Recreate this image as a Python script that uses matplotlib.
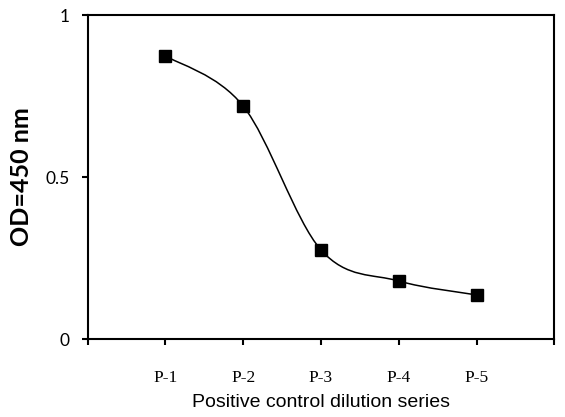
import matplotlib
matplotlib.use("Agg")
import matplotlib.pyplot as plt
from matplotlib.path import Path
from matplotlib.patches import PathPatch
import numpy as np

# ---- 数据 ----
labels = ["P-1", "P-2", "P-3", "P-4", "P-5"]
od450 = [0.874, 0.719, 0.275, 0.179, 0.136]
y_ticks = [0, 0.5, 1]
y_ticklabels = ["0", "0.5", "1"]


def smooth_path(xs, ys):
    """Excel 风格平滑线: Catmull-Rom → 三次 Bezier。"""
    pts = np.column_stack([xs, ys]).astype(float)
    ext = np.vstack([pts[0], pts, pts[-1]])
    verts = [pts[0]]
    codes = [Path.MOVETO]
    for i in range(1, len(ext) - 2):
        p0, p1, p2, p3 = ext[i - 1], ext[i], ext[i + 1], ext[i + 2]
        verts += [p1 + (p2 - p0) / 6, p2 - (p3 - p1) / 6, p2]
        codes += [Path.CURVE4] * 3
    return Path(verts, codes)


fig = plt.figure(figsize=(5.65, 4.17), dpi=100)
ax = fig.add_axes([0.1549, 0.187, 0.8265, 0.777])

x = np.arange(1, len(labels) + 1)
ax.add_patch(PathPatch(smooth_path(x, od450), facecolor="none", edgecolor="black", lw=1.1))
ax.plot(x, od450, ls="none", marker="s", ms=8, color="black")

ax.set_xlim(0, len(labels) + 1)
ax.set_ylim(0, 1)
ax.xaxis.remove_overlapping_locs = False
ax.set_xticks(np.arange(0, len(labels) + 2))
ax.set_xticklabels([])
ax.set_xticks(x, minor=True)
ax.set_xticklabels(labels, minor=True, family="Liberation Serif", fontsize=12.5)
ax.tick_params(axis="x", which="minor", length=0, pad=22, labelsize=12.5)
ax.tick_params(axis="x", which="major", direction="out", length=4, width=1.5)
ax.set_yticks(y_ticks)
ax.set_yticklabels(y_ticklabels, family="Lato", fontsize=12.5)
ax.tick_params(axis="y", direction="out", length=4, width=1.5, pad=9)
for s in ax.spines.values():
    s.set_linewidth(1.5)

ax.set_xlabel("Positive control dilution series", family="Liberation Sans", fontsize=14, labelpad=6)
ax.set_ylabel("OD=450 nm", family="Lato", fontweight="bold", fontsize=18, labelpad=9)

fig.savefig("out.png", dpi=100)
